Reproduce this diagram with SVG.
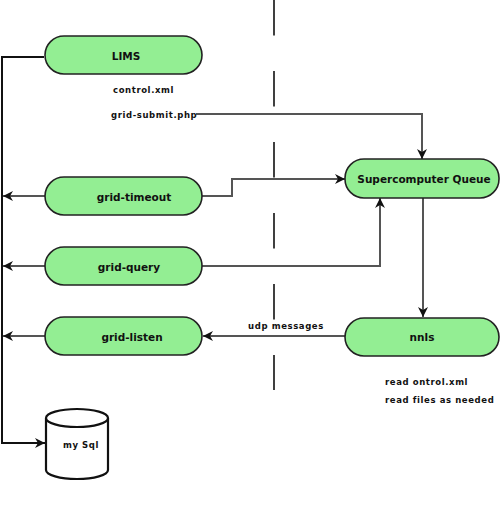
<svg xmlns="http://www.w3.org/2000/svg" width="500" height="532" viewBox="0 0 500 532">
<style>
.node{fill:#93ee93;stroke:#222;stroke-width:1.6}
.lbl{font-family:"DejaVu Sans",sans-serif;font-weight:bold;font-size:10.5px;fill:#111;text-anchor:middle;dominant-baseline:central}
.note{font-family:"DejaVu Sans",sans-serif;font-weight:bold;font-size:8.5px;fill:#111;letter-spacing:0.6px}
.c{fill:none;stroke:#555;stroke-width:2}
.bus{fill:none;stroke:#111;stroke-width:2}
</style>
<defs>
<marker id="a" viewBox="0 0 10 10" refX="10" refY="5" markerWidth="10" markerHeight="10" markerUnits="userSpaceOnUse" orient="auto">
<path d="M0,0 L10,5 L0,10 L3,5 Z" fill="#111"/>
</marker>
</defs>
<line x1="274" y1="0" x2="274" y2="390" stroke="#111" stroke-width="1.6" stroke-dasharray="35.5 35.5"/>
<g id="connectors">
<path class="bus" d="M44,57 H2 V443 H45" marker-end="url(#a)"/>
<path class="c" d="M45,196 H3" marker-end="url(#a)"/>
<path class="c" d="M45,266 H3" marker-end="url(#a)"/>
<path class="c" d="M45,336 H3" marker-end="url(#a)"/>
<path class="c" d="M196,114 H422 V159" marker-end="url(#a)"/>
<path class="c" d="M202,196 H232 V179 H345" marker-end="url(#a)"/>
<path class="c" d="M202,266 H380 V198" marker-end="url(#a)"/>
<path class="c" d="M423,198 V317" marker-end="url(#a)"/>
<path class="c" d="M345,336 H203" marker-end="url(#a)"/>
<text class="note" x="286" y="329" text-anchor="middle">udp messages</text>
</g>
<g id="lims">
<rect class="node" x="45" y="36" width="157" height="38" rx="19"/>
<text class="lbl" x="126" y="56">LIMS</text>
</g>
<text class="note" x="113" y="93">control.xml</text>
<text class="note" x="111" y="118">grid-submit.php</text>
<g id="queue">
<rect class="node" x="345" y="159" width="154" height="39" rx="19"/>
<text class="lbl" x="424" y="179">Supercomputer Queue</text>
</g>
<g id="grid-timeout">
<rect class="node" x="45" y="177" width="157" height="38" rx="19"/>
<text class="lbl" x="134" y="197">grid-timeout</text>
</g>
<g id="grid-query">
<rect class="node" x="45" y="247" width="157" height="38" rx="19"/>
<text class="lbl" x="129" y="267">grid-query</text>
</g>
<g id="grid-listen">
<rect class="node" x="45" y="317" width="157" height="38" rx="19"/>
<text class="lbl" x="132" y="337">grid-listen</text>
</g>
<g id="nnls">
<rect class="node" x="345" y="318" width="154" height="38" rx="19"/>
<text class="lbl" x="422" y="337">nnls</text>
</g>
<text class="note" x="385" y="385">read ontrol.xml</text>
<text class="note" x="385" y="403">read files as needed</text>
<g id="mysql">
<path d="M46,418 V470 A31,9 0 0 0 108,470 V418" fill="#fff" stroke="#111" stroke-width="2.2"/>
<ellipse cx="77" cy="418" rx="31" ry="9" fill="#fff" stroke="#111" stroke-width="2.2"/>
<text class="note" x="81" y="448" text-anchor="middle">my Sql</text>
</g>
</svg>
